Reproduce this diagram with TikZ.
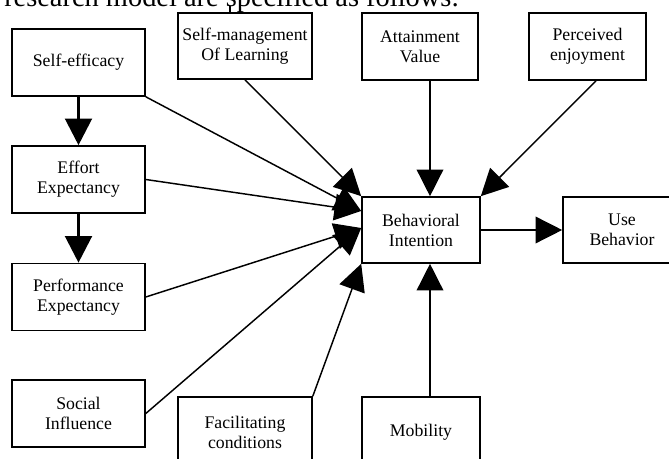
\documentclass[tikz,border=0pt]{standalone}
\usepackage{fontspec}
\setmainfont{Liberation Serif}
\usetikzlibrary{arrows.meta}

\begin{document}
\begin{tikzpicture}[x=0.75pt,y=-0.75pt,line cap=butt,line join=miter]
  \tikzset{
    factor/.style={draw=black,fill=white,line width=1.2pt,align=center,inner sep=0pt,
      minimum width=99.75pt,minimum height=50.25pt,font=\fontsize{13.3}{15}\selectfont},
    narrow/.style={factor,minimum width=88.5pt},
    link/.style={black,line width=1.1pt,-{Triangle[length=20pt,width=20pt]}},
    chainlink/.style={link,line width=2.4pt}
  }
  \clip (0,0) rectangle (669,459);

  % Cut-off sentence above the figure.
  \node[anchor=base west,inner sep=0pt,font=\fontsize{21.3}{24}\selectfont] (TXT) at (4,7)
    {research model are specified as follows:};

  % Left column.
  \node[factor] (SE) at (78.5,62.5) {Self-efficacy};
  \node[factor] (EE) at (78.5,179.5) {Effort\\Expectancy};
  \node[factor] (PE) at (78.5,297) {Performance\\Expectancy};
  \node[factor] (SI) at (78.5,413.5) {Social\\Influence};

  % Top row.
  \node[factor,minimum width=100.5pt,minimum height=49.5pt] (SML) at (245,46) {Self-management\\Of Learning};
  \node[factor,minimum width=87pt] (AV) at (420,46.5) {Attainment\\Value};
  \node[factor,minimum width=87.75pt] (PEJ) at (587.5,46.5) {Perceived\\enjoyment};

  % Centre and bottom row.
  \node[narrow,minimum height=49.5pt] (BI) at (421,230) {Behavioral\\Intention};
  \node[narrow,minimum height=49.5pt] (UB) at (622,230) {Use\\Behavior};
  \node[factor,minimum width=100.5pt,minimum height=52.5pt] (FC) at (245,432) {Facilitating\\conditions};
  \node[narrow,minimum height=52.5pt] (MO) at (421,432) {Mobility};

  % Connectors.
  \coordinate (tick) at (230,6);
  \draw[line width=1.1pt] (tick) -- (tick |- SML.north);
  \draw[chainlink] (SE) -- (EE);
  \draw[chainlink] (EE) -- (PE);
  \draw[link] (SE.south east) -- ([yshift=14.25pt]BI.west);
  \draw[link] (EE.east) -- ([yshift=14.25pt]BI.west);
  \draw[link] (PE.east) -- ([yshift=1.5pt]BI.west);
  \draw[link] (SI.east) -- ([yshift=1.5pt]BI.west);
  \draw[link] (SML.south) -- (BI.north west);
  \draw[link] (FC.north east) -- (BI.south west);
  \draw[link] ([xshift=7.5pt]AV.south) coordinate (avx) -- (avx |- BI.north);
  \draw[link] ([xshift=6.75pt]MO.north) coordinate (mox) -- (mox |- BI.south);
  \draw[link] ([xshift=6.4pt]PEJ.south) -- (BI.north east);
  \draw[link] (BI.east) -- (UB.west);
\end{tikzpicture}
\end{document}
